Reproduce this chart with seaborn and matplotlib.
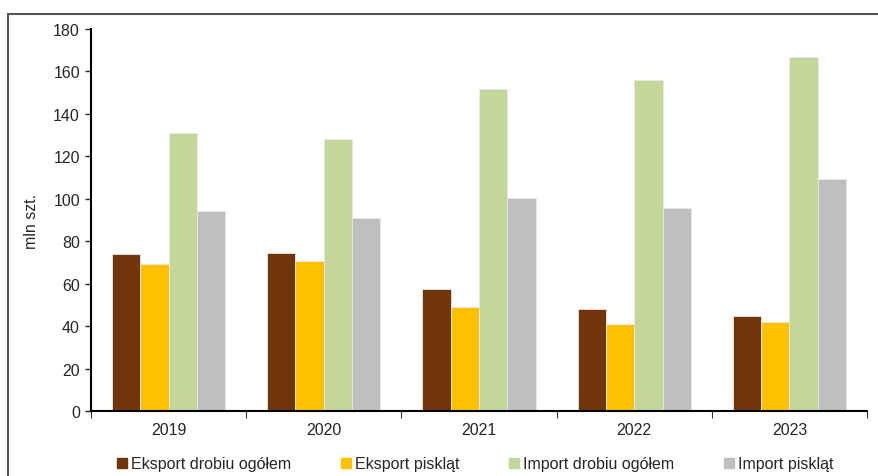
import matplotlib
matplotlib.use("Agg")
import matplotlib.pyplot as plt
import seaborn as sns
import pandas as pd
from matplotlib.lines import Line2D

years = ["2019", "2020", "2021", "2022", "2023"]
series = ["Eksport drobiu ogółem", "Eksport piskląt", "Import drobiu ogółem", "Import piskląt"]
eksport_drobiu = [74.0, 74.3, 57.3, 48.1, 44.6]
eksport_pisklat = [69.3, 70.5, 49.0, 40.8, 41.8]
import_drobiu = [130.9, 128.2, 151.7, 156.0, 166.7]
import_pisklat = [94.1, 91.1, 100.2, 95.5, 109.2]
colors = ["#70350A", "#FFC000", "#C4D79B", "#BFBFBF"]

sns.set_style("white")
plt.rcParams['font.family'] = ['Liberation Sans', 'DejaVu Sans']

rows = []
for s, vals in zip(series, [eksport_drobiu, eksport_pisklat, import_drobiu, import_pisklat]):
    for y, v in zip(years, vals):
        rows.append({"Rok": y, "Seria": s, "Wartość": v})
df = pd.DataFrame(rows)

FS = 11.5
fig = plt.figure(figsize=(8.79, 4.77), dpi=100)
ax = fig.add_axes([91/879, 1-412/477, (867-91)/879, (412-30)/477])

sns.barplot(data=df, x="Rok", y="Wartość", hue="Seria", palette=colors,
            width=0.73, gap=0, ax=ax, legend=False, edgecolor="#E8E8E8", linewidth=0.6,
            saturation=1)

ax.set_ylim(0, 180)
ax.set_yticks(range(0, 181, 20))
ax.set_xlim(-0.5, 4.5)
ax.set_xlabel("")
ax.set_ylabel("mln szt.", fontsize=FS, labelpad=10)
ax.tick_params(axis='y', which='major', direction='out', length=4, width=1, labelsize=FS, left=True, pad=4)
ax.tick_params(axis='x', which='major', length=0, labelsize=FS, pad=8)
ax.set_xticks([-0.5 + i for i in range(6)], minor=True)
ax.tick_params(axis='x', which='minor', direction='out', length=5, width=0.8, bottom=True, color="#333333")
for sp in ["top", "right"]:
    ax.spines[sp].set_visible(False)
for sp in ["left", "bottom"]:
    ax.spines[sp].set_linewidth(1.5)
    ax.spines[sp].set_color("black")

handles = [Line2D([0], [0], marker='s', linestyle='none', markersize=6.7,
                  markerfacecolor=c, markeredgecolor=c) for c in colors]
fig.legend(handles, series, loc='center left', bbox_to_anchor=(114/879, 1-465/477), ncol=4,
           frameon=False, fontsize=FS, handletextpad=0.05, columnspacing=2.95,
           handlelength=1.0, borderaxespad=0, borderpad=0)

# figure frame (partial, as in reference)
fig.add_artist(Line2D([8/879, 1.0], [1-15/477, 1-15/477], transform=fig.transFigure,
                      color="#555555", linewidth=1.5))
fig.add_artist(Line2D([8/879, 8/879], [1-15/477, 0.0], transform=fig.transFigure,
                      color="#555555", linewidth=1.5))

fig.savefig("out.png", dpi=100)
